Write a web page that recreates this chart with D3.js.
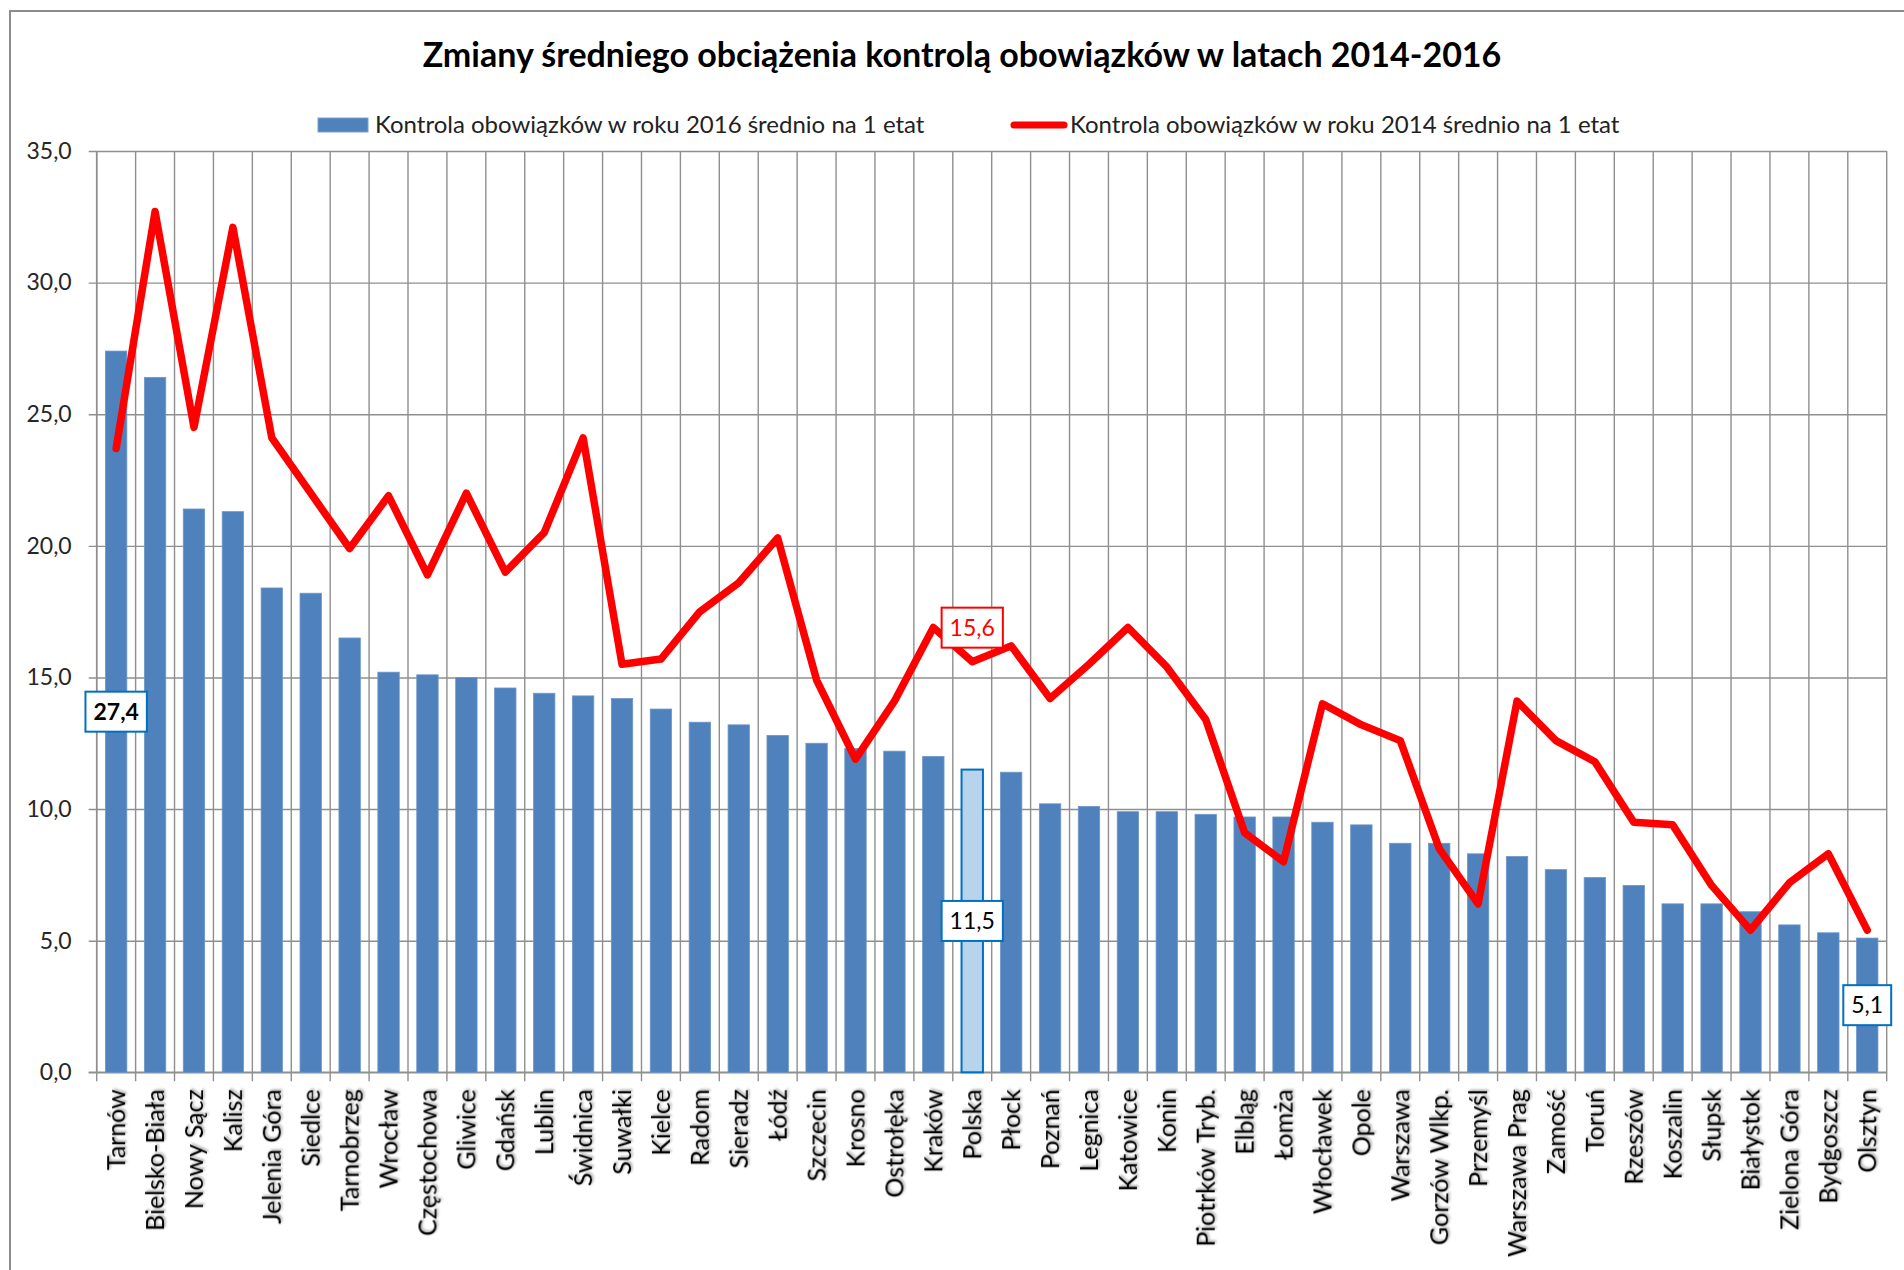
<!DOCTYPE html>
<html>
<head>
<meta charset="utf-8">
<script src="https://cdn.jsdelivr.net/npm/d3@7"></script>
<style>
  body { margin: 0; background: #fff; }
  svg { display: block; font-family: Lato, "Open Sans", sans-serif; }
</style>
</head>
<body>
<svg id="chart" width="1904" height="1270"></svg>
<script>
// categories (oddziały) in chart order
const cities = ["Tarnów", "Bielsko-Biała", "Nowy Sącz", "Kalisz", "Jelenia Góra", "Siedlce",
  "Tarnobrzeg", "Wrocław", "Częstochowa", "Gliwice", "Gdańsk", "Lublin", "Świdnica",
  "Suwałki", "Kielce", "Radom", "Sieradz", "Łódź", "Szczecin", "Krosno", "Ostrołęka",
  "Kraków", "Polska", "Płock", "Poznań", "Legnica", "Katowice", "Konin", "Piotrków Tryb.",
  "Elbląg", "Łomża", "Włocławek", "Opole", "Warszawa", "Gorzów Wlkp.", "Przemyśl",
  "Warszawa Prag", "Zamość", "Toruń", "Rzeszów", "Koszalin", "Słupsk", "Białystok",
  "Zielona Góra", "Bydgoszcz", "Olsztyn"];

// 2016 – bars
const v2016 = [27.4, 26.4, 21.4, 21.3, 18.4, 18.2, 16.5, 15.2, 15.1, 15.0, 14.6, 14.4, 14.3,
  14.2, 13.8, 13.3, 13.2, 12.8, 12.5, 12.3, 12.2, 12.0, 11.5, 11.4, 10.2, 10.1, 9.9, 9.9, 9.8,
  9.7, 9.7, 9.5, 9.4, 8.7, 8.7, 8.3, 8.2, 7.7, 7.4, 7.1, 6.4, 6.4, 6.1, 5.6, 5.3, 5.1];

// 2014 – line
const v2014 = [23.7, 32.7, 24.5, 32.1, 24.1, 22.0, 19.9, 21.9, 18.9, 22.0, 19.0, 20.5, 24.1,
  15.5, 15.7, 17.5, 18.6, 20.3, 14.9, 11.9, 14.1, 16.9, 15.6, 16.2, 14.2, 15.5, 16.9, 15.4, 13.4,
  9.1, 8.0, 14.0, 13.2, 12.6, 8.5, 6.4, 14.1, 12.6, 11.8, 9.5, 9.4, 7.1, 5.4, 7.2, 8.3, 5.4];

const yTicks = [0, 5, 10, 15, 20, 25, 30, 35];
const barLabels = ["Tarnów", "Polska", "Olsztyn"];   // labelled bars
const boldLabels = ["Tarnów"];
const lineLabels = ["Polska"];                      // labelled line points
const highlight = "Polska";

const title = "Zmiany średniego obciążenia kontrolą obowiązków w latach 2014-2016";
const legend2016 = "Kontrola obowiązków w roku 2016 średnio na 1 etat";
const legend2014 = "Kontrola obowiązków w roku 2014 średnio na 1 etat";

const fmt = d => d.toFixed(1).replace(".", ",");

const svg = d3.select("#chart");
const plotLeft = 96.7, plotRight = 1886.7, plotTop = 151, plotBottom = 1072.3;
const W = plotRight - plotLeft;

const xCol = d3.scaleBand().domain(cities).range([plotLeft, plotRight]);
const x = d3.scaleBand().domain(cities).range([plotLeft, plotRight]).paddingInner(0.45).paddingOuter(0.225);
const y = d3.scaleLinear().domain([0, 35]).range([plotBottom, plotTop]);

// drop shadow for category labels
const defs = svg.append("defs");
const f = defs.append("filter").attr("id", "shadow").attr("x", "-20%").attr("y", "-20%").attr("width", "140%").attr("height", "140%");
f.append("feDropShadow").attr("dx", 1.5).attr("dy", 1.5).attr("stdDeviation", 0.8)
  .attr("flood-color", "#000").attr("flood-opacity", 0.35);

// chart border
svg.append("rect").attr("x", 10).attr("y", 11).attr("width", 1920).attr("height", 1300)
  .attr("fill", "none").attr("stroke", "#8c8c8c").attr("stroke-width", 2);

// title
svg.append("text").attr("x", 962).attr("y", 67).attr("text-anchor", "middle")
  .attr("font-size", 34).attr("font-weight", "bold").attr("fill", "#000").text(title);

// legend
const lg = svg.append("g").attr("font-size", 24).attr("fill", "#222");
lg.append("rect").attr("x", 318).attr("y", 118).attr("width", 50).attr("height", 14)
  .attr("fill", "#4F81BD").attr("stroke", "#7ea1cc").attr("stroke-width", 1);
lg.append("text").attr("x", 375).attr("y", 125).attr("dy", "0.35em").text(legend2016);
lg.append("line").attr("x1", 1014).attr("x2", 1064).attr("y1", 125).attr("y2", 125)
  .attr("stroke", "#FF0000").attr("stroke-width", 7).attr("stroke-linecap", "round");
lg.append("text").attr("x", 1070).attr("y", 125).attr("dy", "0.35em").text(legend2014);

// horizontal gridlines + y axis labels
const yAxis = svg.append("g").attr("transform", `translate(${plotLeft},0)`)
  .call(d3.axisLeft(y).tickValues(yTicks).tickFormat(fmt).tickSize(-W).tickPadding(25));
yAxis.select(".domain").remove();
yAxis.selectAll("line").attr("x1", -8).attr("stroke", "#8f8f8f").attr("stroke-width", 1.4);
yAxis.selectAll("text").attr("font-size", 23).attr("font-family", "Lato").attr("fill", "#262626");

// vertical gridlines at category boundaries (with ticks below the axis)
svg.append("g").selectAll("line")
  .data(cities.map(c => xCol(c)).concat([plotRight]))
  .join("line")
  .attr("x1", d => d).attr("x2", d => d)
  .attr("y1", plotTop).attr("y2", plotBottom + 9)
  .attr("stroke", "#8f8f8f").attr("stroke-width", 1.4);

// axes lines
svg.append("line").attr("x1", plotLeft).attr("x2", plotLeft).attr("y1", plotTop).attr("y2", plotBottom)
  .attr("stroke", "#8f8f8f").attr("stroke-width", 1.6);
svg.append("line").attr("x1", plotLeft - 8).attr("x2", plotRight).attr("y1", plotBottom).attr("y2", plotBottom)
  .attr("stroke", "#8f8f8f").attr("stroke-width", 1.6);

// bars
svg.append("g").selectAll("rect")
  .data(cities.map((c, i) => ({ c, v: v2016[i] })))
  .join("rect")
  .attr("x", d => x(d.c))
  .attr("y", d => y(d.v))
  .attr("width", x.bandwidth())
  .attr("height", d => y(0) - y(d.v))
  .attr("fill", d => d.c === highlight ? "#B7D4EC" : "#4F81BD")
  .attr("stroke", d => d.c === highlight ? "#0070C0" : "#6f97c8")
  .attr("stroke-width", d => d.c === highlight ? 2 : 0.8);

// line
const cx = c => xCol(c) + xCol.bandwidth() / 2;
const line = d3.line().x(d => cx(d.c)).y(d => y(d.v));
svg.append("path")
  .datum(cities.map((c, i) => ({ c, v: v2014[i] })))
  .attr("d", line)
  .attr("fill", "none").attr("stroke", "#FF0000").attr("stroke-width", 7.5)
  .attr("stroke-linejoin", "round").attr("stroke-linecap", "round");

// category labels
const xAxis = svg.append("g").attr("transform", `translate(0,${plotBottom})`)
  .call(d3.axisBottom(xCol).tickSize(0));
xAxis.select(".domain").remove();
xAxis.selectAll("text")
  .attr("font-size", 25).attr("font-family", "Lato").attr("fill", "#000")
  .attr("transform", "rotate(-90)")
  .attr("x", -17).attr("y", 0).attr("dy", "0.36em")
  .attr("text-anchor", "end")
  .attr("filter", "url(#shadow)");

// data label boxes
function labelBox(cxp, cyp, text, color, bold) {
  const g = svg.append("g");
  const t = g.append("text").attr("x", cxp).attr("y", cyp).attr("dy", "0.36em")
    .attr("text-anchor", "middle").attr("font-size", 23)
    .attr("font-weight", bold ? "bold" : "normal")
    .attr("fill", color === "#FF0000" ? "#FF0000" : "#000").text(text);
  const w = t.node().getComputedTextLength() + 16;
  g.insert("rect", "text").attr("x", cxp - w / 2).attr("y", cyp - 20).attr("width", w).attr("height", 40)
    .attr("fill", "#fff").attr("stroke", color).attr("stroke-width", 2);
}

barLabels.forEach(c => {
  const i = cities.indexOf(c);
  labelBox(cx(c), y(v2016[i] / 2), fmt(v2016[i]), "#0070C0", boldLabels.includes(c));
});
lineLabels.forEach(c => {
  const i = cities.indexOf(c);
  labelBox(cx(c), y(v2014[i]) - 34, fmt(v2014[i]), "#FF0000", false);
});
</script>
</body>
</html>
